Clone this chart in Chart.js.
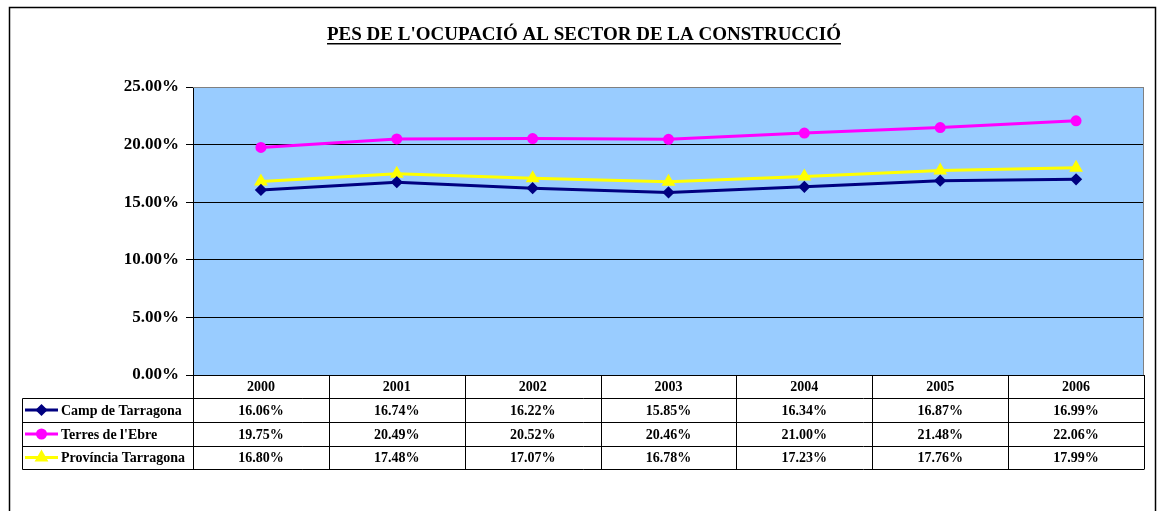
<!DOCTYPE html>
<html>
<head>
<meta charset="utf-8">
<script src="https://cdn.jsdelivr.net/npm/chart.js@4.4.0/dist/chart.umd.min.js"></script>
<style>
  body { margin: 0; background: #fff; }
</style>
</head>
<body>
<canvas id="ocupacio" width="1158" height="511"></canvas>
<script>
let years = ["2000", "2001", "2002", "2003", "2004", "2005", "2006"];
let campTarragona = [0.1606, 0.1674, 0.1622, 0.1585, 0.1634, 0.1687, 0.1699];
let terresEbre = [0.1975, 0.2049, 0.2052, 0.2046, 0.2100, 0.2148, 0.2206];
let provincia = [0.1680, 0.1748, 0.1707, 0.1678, 0.1723, 0.1776, 0.1799];

const serif = "'Liberation Serif', 'Times New Roman', serif";
const pct = v => (v * 100).toFixed(2) + '%';

// background, frame, plot area fill, title and the data table under the plot
const excelLook = {
  id: 'excelLook',
  beforeDraw(chart) {
    const ctx = chart.ctx, a = chart.chartArea;
    ctx.save();
    ctx.fillStyle = '#fff';
    ctx.fillRect(0, 0, chart.width, chart.height);
    ctx.strokeStyle = '#000';
    ctx.lineWidth = 1.5;
    ctx.strokeRect(9.5, 7.5, 1146, 600);
    ctx.fillStyle = '#99CCFF';
    ctx.fillRect(a.left, a.top, a.right - a.left, a.bottom - a.top);
    ctx.restore();
  },
  afterDraw(chart) {
    const ctx = chart.ctx, a = chart.chartArea, x = chart.scales.x;
    ctx.save();
    // plot border top/right
    ctx.strokeStyle = '#808080';
    ctx.lineWidth = 1;
    ctx.beginPath();
    ctx.moveTo(a.left, a.top + 0.5);
    ctx.lineTo(a.right - 0.5, a.top + 0.5);
    ctx.lineTo(a.right - 0.5, a.bottom);
    ctx.stroke();

    // title
    ctx.fillStyle = '#000';
    ctx.font = 'bold 19px ' + serif;
    ctx.textAlign = 'center';
    ctx.textBaseline = 'alphabetic';
    const title = "PES DE L'OCUPACIÓ AL SECTOR DE LA CONSTRUCCIÓ";
    const tw = ctx.measureText(title).width;
    ctx.fillText(title, 584, 40);
    ctx.fillRect(584 - tw / 2, 43, tw, 1.5);

    // table
    const colW = (a.right - a.left) / years.length;
    const rows = [a.bottom, 398, 422, 446, 469];
    const legL = 22.5;
    ctx.strokeStyle = '#000';
    ctx.lineWidth = 1;
    ctx.beginPath();
    for (let r = 0; r < rows.length; r++) {
      const y = Math.round(rows[r]) + 0.5;
      ctx.moveTo(r === 0 ? a.left : legL, y);
      ctx.lineTo(a.right, y);
    }
    for (let c = 0; c <= years.length; c++) {
      const xx = Math.round(a.left + c * colW) + 0.5;
      ctx.moveTo(xx, rows[0]);
      ctx.lineTo(xx, rows[4] + 0.5);
    }
    ctx.moveTo(legL, rows[1] + 0.5);
    ctx.lineTo(legL, rows[4] + 0.5);
    ctx.stroke();

    ctx.font = 'bold 14px ' + serif;
    ctx.textBaseline = 'middle';
    ctx.textAlign = 'center';
    years.forEach((yr, i) => {
      ctx.fillText(yr, x.getPixelForValue(i), (rows[0] + rows[1]) / 2 + 1);
    });
    chart.data.datasets.forEach((ds, d) => {
      const cy = (rows[d + 1] + rows[d + 2]) / 2 + 1;
      ds.data.forEach((v, i) => {
        ctx.textAlign = 'center';
        ctx.fillText(pct(v), x.getPixelForValue(i), cy);
      });
      // legend key
      ctx.strokeStyle = ds.borderColor;
      ctx.lineWidth = 3;
      ctx.beginPath();
      ctx.moveTo(25, cy - 1);
      ctx.lineTo(58, cy - 1);
      ctx.stroke();
      ctx.fillStyle = ds.pointBackgroundColor;
      Chart.helpers.drawPoint(ctx, {
        pointStyle: ds.pointStyle, radius: ds.pointRadius, rotation: 0, borderWidth: 1
      }, 41.5, cy - 1);
      ctx.fillStyle = '#000';
      ctx.textAlign = 'left';
      ctx.fillText(ds.label, 61, cy);
    });
    ctx.restore();
  }
};

new Chart(document.getElementById('ocupacio'), {
  type: 'line',
  data: {
    labels: years,
    datasets: [
      {
        label: 'Camp de Tarragona', data: campTarragona,
        borderColor: '#000080', backgroundColor: '#000080', pointBackgroundColor: '#000080',
        pointBorderColor: '#000080', pointStyle: 'rectRot', pointRadius: 4, borderWidth: 3
      },
      {
        label: "Terres de l'Ebre", data: terresEbre,
        borderColor: '#FF00FF', backgroundColor: '#FF00FF', pointBackgroundColor: '#FF00FF',
        pointBorderColor: '#FF00FF', pointStyle: 'circle', pointRadius: 4, borderWidth: 3
      },
      {
        label: 'Província Tarragona', data: provincia,
        borderColor: '#FFFF00', backgroundColor: '#FFFF00', pointBackgroundColor: '#FFFF00',
        pointBorderColor: '#FFFF00', pointStyle: 'triangle', pointRadius: 5, borderWidth: 3
      }
    ]
  },
  options: {
    responsive: false,
    animation: false,
    layout: { padding: { left: 0, top: 87, right: 14, bottom: 136 } },
    plugins: { legend: { display: false }, tooltip: { enabled: false }, title: { display: false } },
    elements: { line: { tension: 0 } },
    scales: {
      x: { display: false, offset: true },
      y: {
        min: 0, max: 0.25,
        afterFit(scale) { scale.width = 193; },
        ticks: {
          stepSize: 0.05,
          padding: 7,
          color: '#000',
          font: { family: serif, size: 17, weight: 'bold' },
          callback: v => pct(v)
        },
        grid: {
          color: ctx => ctx.tick && ctx.tick.value >= 0.25 ? '#808080' : '#000',
          tickColor: '#000',
          tickLength: 7,
          lineWidth: 1
        },
        border: { display: true, color: '#000', width: 1 }
      }
    }
  },
  plugins: [excelLook]
});
</script>
</body>
</html>
